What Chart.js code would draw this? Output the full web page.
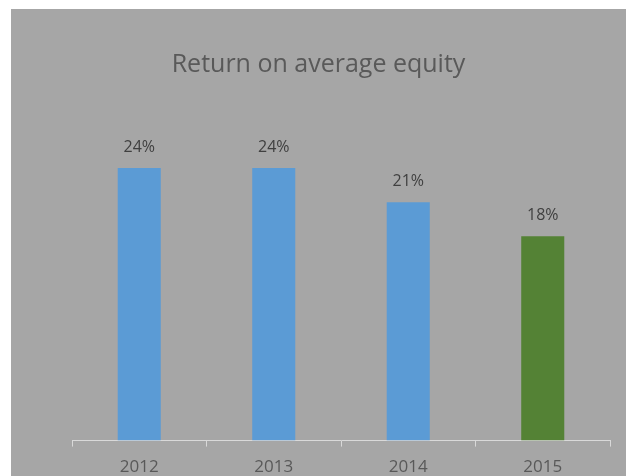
<!DOCTYPE html>
<html lang="en">
<head>
    <meta charset="UTF-8">
    <title>Return on average equity</title>
    <script src="https://cdn.jsdelivr.net/npm/chart.js"></script>
    <style>
        html, body {
            margin: 0;
            padding: 0;
            background: #ffffff;
            overflow: hidden;
        }

        /* gray chart panel, offset like the original screenshot */
        .panel {
            position: absolute;
            left: 11px;
            top: 9px;
            width: 615px;
            height: 480px;
            background: #a6a6a6;
        }
    </style>
</head>
<body>
    <div class="panel">
        <canvas id="roeChart" width="615" height="480"></canvas>
    </div>

    <script>
        // Data
        const years = ['2012', '2013', '2014', '2015'];
        const roeValues = [24, 24, 21, 18];
        const barColors = ['#5b9bd5', '#5b9bd5', '#5b9bd5', '#548235'];

        const fontFamily = '"Open Sans", "Noto Sans", sans-serif';

        // Draw the percent labels above each bar
        const valueLabels = {
            id: 'valueLabels',
            afterDatasetsDraw(chart) {
                const ctx = chart.ctx;
                const meta = chart.getDatasetMeta(0);
                ctx.save();
                ctx.font = '16px ' + fontFamily;
                ctx.fillStyle = '#404040';
                ctx.textAlign = 'center';
                ctx.textBaseline = 'middle';
                meta.data.forEach((bar, i) => {
                    ctx.fillText(roeValues[i] + '%', bar.x, bar.y - 21);
                });
                ctx.restore();
            }
        };

        const ctx = document.getElementById('roeChart').getContext('2d');
        const roeChart = new Chart(ctx, {
            type: 'bar',
            data: {
                labels: years,
                datasets: [{
                    data: roeValues,
                    backgroundColor: barColors,
                    barPercentage: 0.32,
                    categoryPercentage: 1
                }]
            },
            options: {
                responsive: false,
                animation: false,
                layout: {
                    padding: { left: 0, right: 0, top: 0, bottom: 2 }
                },
                plugins: {
                    legend: { display: false },
                    tooltip: { enabled: false },
                    title: {
                        display: true,
                        text: 'Return on average equity',
                        color: '#595959',
                        font: { family: fontFamily, size: 25, weight: 'normal' },
                        padding: { top: 41, bottom: 20 }
                    }
                },
                scales: {
                    x: {
                        border: { color: '#d9d9d9', width: 1 },
                        grid: {
                            display: true,
                            drawOnChartArea: false,
                            color: '#d9d9d9',
                            tickLength: 6,
                            offset: true
                        },
                        ticks: {
                            color: '#595959',
                            padding: 10,
                            font: { family: fontFamily, size: 17 }
                        }
                    },
                    // invisible axes that only reserve the side margins
                    y: {
                        min: 0,
                        max: 30,
                        ticks: { display: false },
                        grid: { display: false },
                        border: { display: false },
                        afterFit: (scale) => { scale.width = 61; }
                    },
                    yRight: {
                        position: 'right',
                        ticks: { display: false },
                        grid: { display: false },
                        border: { display: false },
                        afterFit: (scale) => { scale.width = 16; }
                    }
                }
            },
            plugins: [valueLabels]
        });
    </script>
</body>
</html>
